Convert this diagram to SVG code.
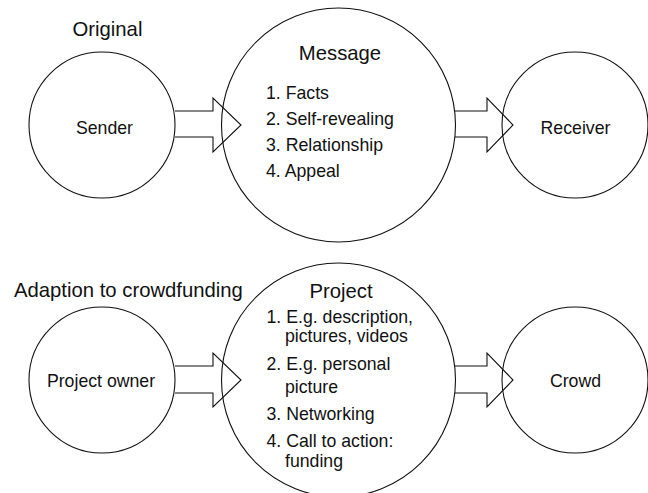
<svg xmlns="http://www.w3.org/2000/svg" width="648" height="493" viewBox="0 0 648 493">
<style>
.c{fill:none;stroke:#111;stroke-width:1.1}
.a{fill:none;stroke:#111;stroke-width:1.1;stroke-linejoin:miter}
text{font-family:"Liberation Sans",Arial,sans-serif;fill:#111}
.h{font-size:20.3px}
.l{font-size:17.7px}
.m{text-anchor:middle}
</style>
<rect width="648" height="493" fill="#fff"/>
<text class="h" x="72.5" y="36">Original</text>
<text class="h" x="14" y="297">Adaption to crowdfunding</text>
<g id="connectors">
<polyline class="a" points="175,111 213,111 213,98 241,125 213,152 213,137 175,137"/>
<polyline class="a" points="455,111 487,111 487,98 513,125 487,152 487,137 455,137"/>
<polyline class="a" points="175,366 213,366 213,353 241,380 213,407 213,393 175,393"/>
<polyline class="a" points="455,366 487,366 487,353 513,380 487,407 487,393 455,393"/>
</g>
<g id="sender">
<circle class="c" cx="102" cy="125" r="73"/>
<text class="l m" x="104.5" y="134">Sender</text>
</g>
<g id="message">
<circle class="c" cx="338.5" cy="125" r="117"/>
<text class="h m" x="340" y="59.5">Message</text>
<text class="l" x="266" y="99">1. Facts</text>
<text class="l" x="266" y="125">2. Self-revealing</text>
<text class="l" x="266" y="151">3. Relationship</text>
<text class="l" x="266" y="177">4. Appeal</text>
</g>
<g id="receiver">
<circle class="c" cx="575" cy="125" r="73"/>
<text class="l m" x="575.5" y="134.3">Receiver</text>
</g>
<g id="project-owner">
<circle class="c" cx="102" cy="380" r="73"/>
<text class="l m" x="101" y="386.7">Project owner</text>
</g>
<g id="project">
<circle class="c" cx="338.5" cy="380" r="117"/>
<text class="h m" x="341" y="298">Project</text>
<text class="l" x="266.5" y="323.3">1. E.g. description,</text>
<text class="l" x="285" y="341.7">pictures, videos</text>
<text class="l" x="266.5" y="370">2. E.g. personal</text>
<text class="l" x="285" y="392.7">picture</text>
<text class="l" x="266.5" y="420">3. Networking</text>
<text class="l" x="266.5" y="447.3">4. Call to action:</text>
<text class="l" x="285" y="466.7">funding</text>
</g>
<g id="crowd">
<circle class="c" cx="575" cy="380" r="73"/>
<text class="l m" x="575.5" y="386.7">Crowd</text>
</g>
</svg>
